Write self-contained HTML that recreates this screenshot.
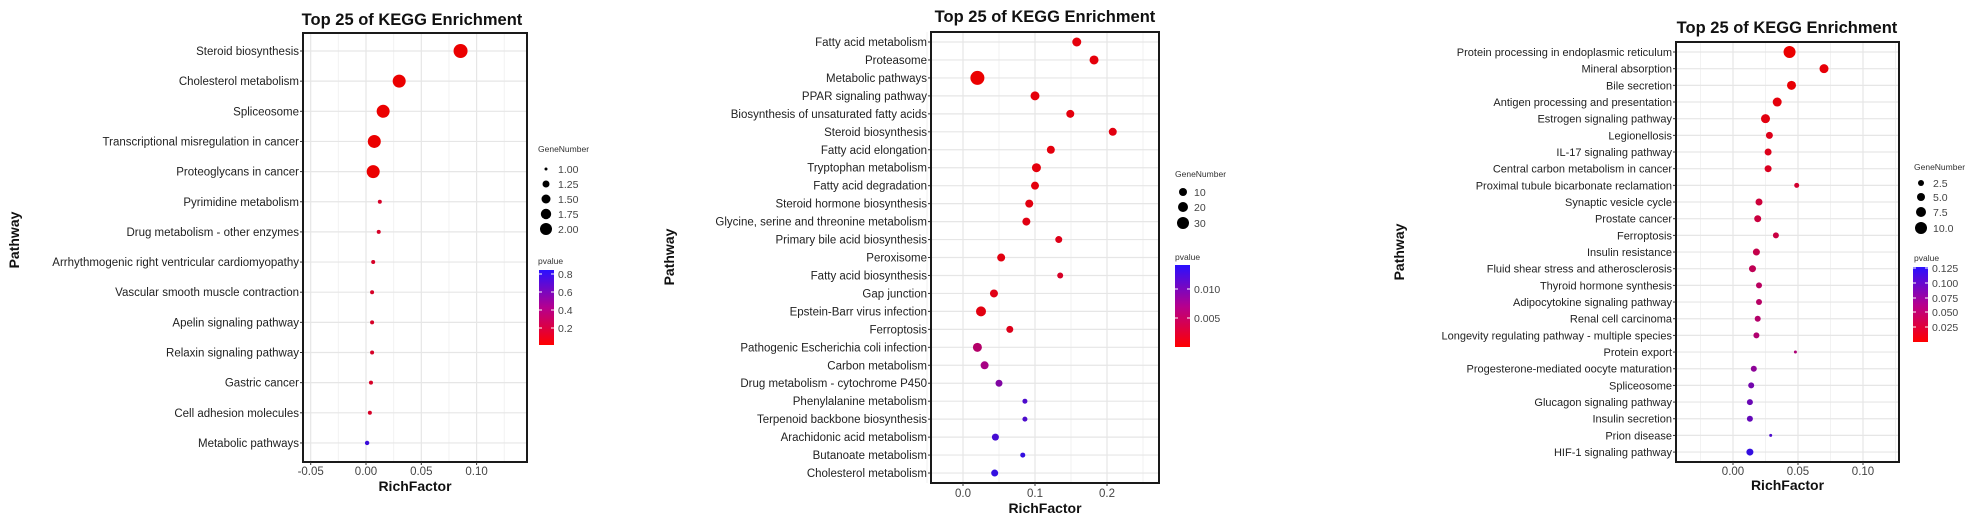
<!DOCTYPE html>
<html><head><meta charset="utf-8"><style>
html,body{margin:0;padding:0;background:#fff;width:1981px;height:520px;overflow:hidden}
svg text{font-family:"Liberation Sans",Arial,sans-serif}
</style></head><body>
<svg id="s" width="1981" height="520" xmlns="http://www.w3.org/2000/svg">
<defs>
<linearGradient id="g" x1="0" y1="1" x2="0" y2="0">
<stop offset="0" stop-color="#ff0000"/><stop offset="0.5" stop-color="#b5008f"/><stop offset="1" stop-color="#2a10ff"/>
</linearGradient>
</defs>
</svg>
<script>
var S=document.getElementById('s'),NS='http://www.w3.org/2000/svg';
function el(t,a,txt){var e=document.createElementNS(NS,t);for(var k in a)e.setAttribute(k,a[k]);if(txt!==undefined)e.textContent=txt;S.appendChild(e);return e;}
function col(t){var r,g,b;if(t<0.5){var u=t/0.5;r=255+(181-255)*u;g=0;b=143*u;}else{var u=(t-0.5)/0.5;r=181+(42-181)*u;g=16*u;b=143+(255-143)*u;}r*=0.92;b*=0.92;return 'rgb('+Math.round(r)+','+Math.round(g)+','+Math.round(b)+')';}
function panel(p){
  // grid
  el('rect',{x:p.bx0,y:p.by0,width:p.bx1-p.bx0,height:p.by1-p.by0,fill:'#fff'});
  p.minor.forEach(function(v){var x=p.x0+v*p.k;el('line',{x1:x,x2:x,y1:p.by0,y2:p.by1,stroke:'#f2f2f2','stroke-width':1});});
  p.major.forEach(function(m){var x=p.x0+m[0]*p.k;el('line',{x1:x,x2:x,y1:p.by0,y2:p.by1,stroke:'#e6e6e6','stroke-width':1.2});});
  p.rows.forEach(function(r,i){var y=p.y0+i*p.dy;el('line',{x1:p.bx0,x2:p.bx1,y1:y,y2:y,stroke:'#e6e6e6','stroke-width':1.2});});
  p.rows.forEach(function(r,i){var y=p.y0+i*p.dy;
    el('circle',{cx:p.x0+r[1]*p.k,cy:y,r:r[2],fill:col(r[3])});
    el('line',{x1:p.bx0-3,x2:p.bx0,y1:y,y2:y,stroke:'#333','stroke-width':1});
    el('text',{x:p.bx0-4,y:y+4,'font-size':p.fs,fill:'#222','text-anchor':'end'},r[0]);
  });
  el('rect',{x:p.bx0,y:p.by0,width:p.bx1-p.bx0,height:p.by1-p.by0,fill:'none',stroke:'#1a1a1a','stroke-width':2});
  p.major.forEach(function(m){var x=p.x0+m[0]*p.k;
    el('line',{x1:x,x2:x,y1:p.by1,y2:p.by1+3,stroke:'#333'});
    el('text',{x:x,y:p.tly+4,'font-size':11.5,fill:'#444','text-anchor':'middle'},m[1]);});
  el('text',{x:(p.bx0+p.bx1)/2,y:p.rfy+5,'font-size':14,'font-weight':'bold',fill:'#111','text-anchor':'middle'},'RichFactor');
  el('text',{x:p.px+5,y:p.py,'font-size':14,'font-weight':'bold',fill:'#111','text-anchor':'middle',transform:'rotate(-90 '+(p.px+5)+' '+p.py+')'},'Pathway');
  el('text',{x:p.tx,y:p.ty+6,'font-size':16.5,'font-weight':'bold',fill:'#111','text-anchor':'middle'},'Top 25 of KEGG Enrichment');
  // legend
  var L=p.leg;
  el('text',{x:L.x,y:L.gy+3,'font-size':8.5,fill:'#333'},'GeneNumber');
  L.g.forEach(function(g){el('circle',{cx:L.cx,cy:g[0],r:g[1],fill:'#000'});el('text',{x:L.lx,y:g[0]+4,'font-size':10.5,fill:'#444'},g[2]);});
  el('text',{x:L.x,y:L.py+3,'font-size':8.5,fill:'#333'},'pvalue');
  el('rect',{x:L.bx,y:L.b0,width:15,height:L.b1-L.b0,fill:'url(#g)'});
  L.p.forEach(function(q){el('line',{x1:L.bx,x2:L.bx+3,y1:q[0],y2:q[0],stroke:'#fff'});el('line',{x1:L.bx+12,x2:L.bx+15,y1:q[0],y2:q[0],stroke:'#fff'});el('text',{x:L.bx+19,y:q[0]+4,'font-size':10.5,fill:'#444'},q[1]);});
}
// Panel 1
panel({bx0:303,bx1:527,by0:33,by1:462,x0:366,k:1106,y0:51,dy:30.15,fs:11.5,
 minor:[-0.025,0.025,0.075,0.125],major:[[-0.05,'-0.05'],[0,'0.00'],[0.05,'0.05'],[0.1,'0.10']],
 tly:471,rfy:486,px:14,py:240,tx:412,ty:19,
 rows:[['Steroid biosynthesis',0.0855,7,0],['Cholesterol metabolism',0.030,6.5,0],['Spliceosome',0.0155,6.5,0],['Transcriptional misregulation in cancer',0.0075,6.5,0],['Proteoglycans in cancer',0.0065,6.5,0],
 ['Pyrimidine metabolism',0.0125,2,0.15],['Drug metabolism - other enzymes',0.0115,2,0.15],['Arrhythmogenic right ventricular cardiomyopathy',0.0065,2,0.15],['Vascular smooth muscle contraction',0.0055,2,0.15],['Apelin signaling pathway',0.0055,2,0.15],['Relaxin signaling pathway',0.0055,2,0.15],['Gastric cancer',0.0045,2,0.15],['Cell adhesion molecules',0.0035,2,0.15],['Metabolic pathways',0.001,2.2,0.92]],
 leg:{x:538,gy:149,cx:546,lx:558,g:[[169,1.5,'1.00'],[184,3.5,'1.25'],[199,4.5,'1.50'],[214,5.2,'1.75'],[229,6,'2.00']],py:261,bx:539,b0:270,b1:345,p:[[274,'0.8'],[292,'0.6'],[310,'0.4'],[328,'0.2']]}});
// Panel 2
panel({bx0:931,bx1:1159,by0:32,by1:483,x0:963,k:720,y0:42,dy:17.96,fs:11.5,
 minor:[-0.05,0.05,0.15,0.25],major:[[0,'0.0'],[0.1,'0.1'],[0.2,'0.2']],
 tly:493,rfy:508,px:669,py:257,tx:1045,ty:16,
 rows:[['Fatty acid metabolism',0.158,4.5,0.04],['Proteasome',0.182,4.5,0.04],['Metabolic pathways',0.020,7,0],['PPAR signaling pathway',0.100,4.5,0.04],['Biosynthesis of unsaturated fatty acids',0.149,4,0.05],['Steroid biosynthesis',0.208,4,0.06],['Fatty acid elongation',0.122,4,0.05],['Tryptophan metabolism',0.102,4.5,0.05],['Fatty acid degradation',0.100,4,0.05],['Steroid hormone biosynthesis',0.092,4,0.06],['Glycine, serine and threonine metabolism',0.088,4,0.07],['Primary bile acid biosynthesis',0.133,3.5,0.09],['Peroxisome',0.053,4,0.06],['Fatty acid biosynthesis',0.135,3,0.15],['Gap junction',0.043,4,0.08],['Epstein-Barr virus infection',0.025,5,0.06],['Ferroptosis',0.065,3.5,0.1],['Pathogenic Escherichia coli infection',0.020,4.5,0.4],['Carbon metabolism',0.030,4,0.5],['Drug metabolism - cytochrome P450',0.050,3.5,0.65],['Phenylalanine metabolism',0.086,2.5,0.85],['Terpenoid backbone biosynthesis',0.086,2.5,0.85],['Arachidonic acid metabolism',0.045,3.5,0.88],['Butanoate metabolism',0.083,2.5,0.95],['Cholesterol metabolism',0.044,3.5,0.95]],
 leg:{x:1175,gy:174,cx:1183,lx:1194,g:[[192,4,'10'],[207,5,'20'],[223,6,'30']],py:257,bx:1175,b0:265,b1:347,p:[[289,'0.010'],[318,'0.005']]}});
// Panel 3
panel({bx0:1676,bx1:1899,by0:42,by1:462,x0:1733,k:1300,y0:52,dy:16.67,fs:11,
 minor:[-0.025,0.025,0.075,0.125],major:[[0,'0.00'],[0.05,'0.05'],[0.1,'0.10']],
 tly:471,rfy:485,px:1399,py:252,tx:1787,ty:27,
 rows:[['Protein processing in endoplasmic reticulum',0.0435,6,0],['Mineral absorption',0.070,4.5,0.03],['Bile secretion',0.045,4.5,0.02],['Antigen processing and presentation',0.034,4.5,0.04],['Estrogen signaling pathway',0.025,4.5,0.06],['Legionellosis',0.028,3.5,0.1],['IL-17 signaling pathway',0.027,3.5,0.1],['Central carbon metabolism in cancer',0.027,3.5,0.12],['Proximal tubule bicarbonate reclamation',0.049,2.5,0.18],['Synaptic vesicle cycle',0.020,3.5,0.22],['Prostate cancer',0.019,3.5,0.24],['Ferroptosis',0.033,3,0.25],['Insulin resistance',0.018,3.5,0.28],['Fluid shear stress and atherosclerosis',0.015,3.5,0.32],['Thyroid hormone synthesis',0.020,3,0.36],['Adipocytokine signaling pathway',0.020,3,0.38],['Renal cell carcinoma',0.019,3,0.4],['Longevity regulating pathway - multiple species',0.018,3,0.42],['Protein export',0.048,1.5,0.45],['Progesterone-mediated oocyte maturation',0.016,3,0.6],['Spliceosome',0.014,3,0.7],['Glucagon signaling pathway',0.013,3,0.74],['Insulin secretion',0.013,3,0.76],['Prion disease',0.029,1.5,0.85],['HIF-1 signaling pathway',0.013,3.5,0.95]],
 leg:{x:1914,gy:167,cx:1921,lx:1933,g:[[183,3,'2.5'],[197,4,'5.0'],[212,5,'7.5'],[228,6,'10.0']],py:258,bx:1913,b0:267,b1:342,p:[[268,'0.125'],[283,'0.100'],[298,'0.075'],[312,'0.050'],[327,'0.025']]}});
</script>
</body></html>
